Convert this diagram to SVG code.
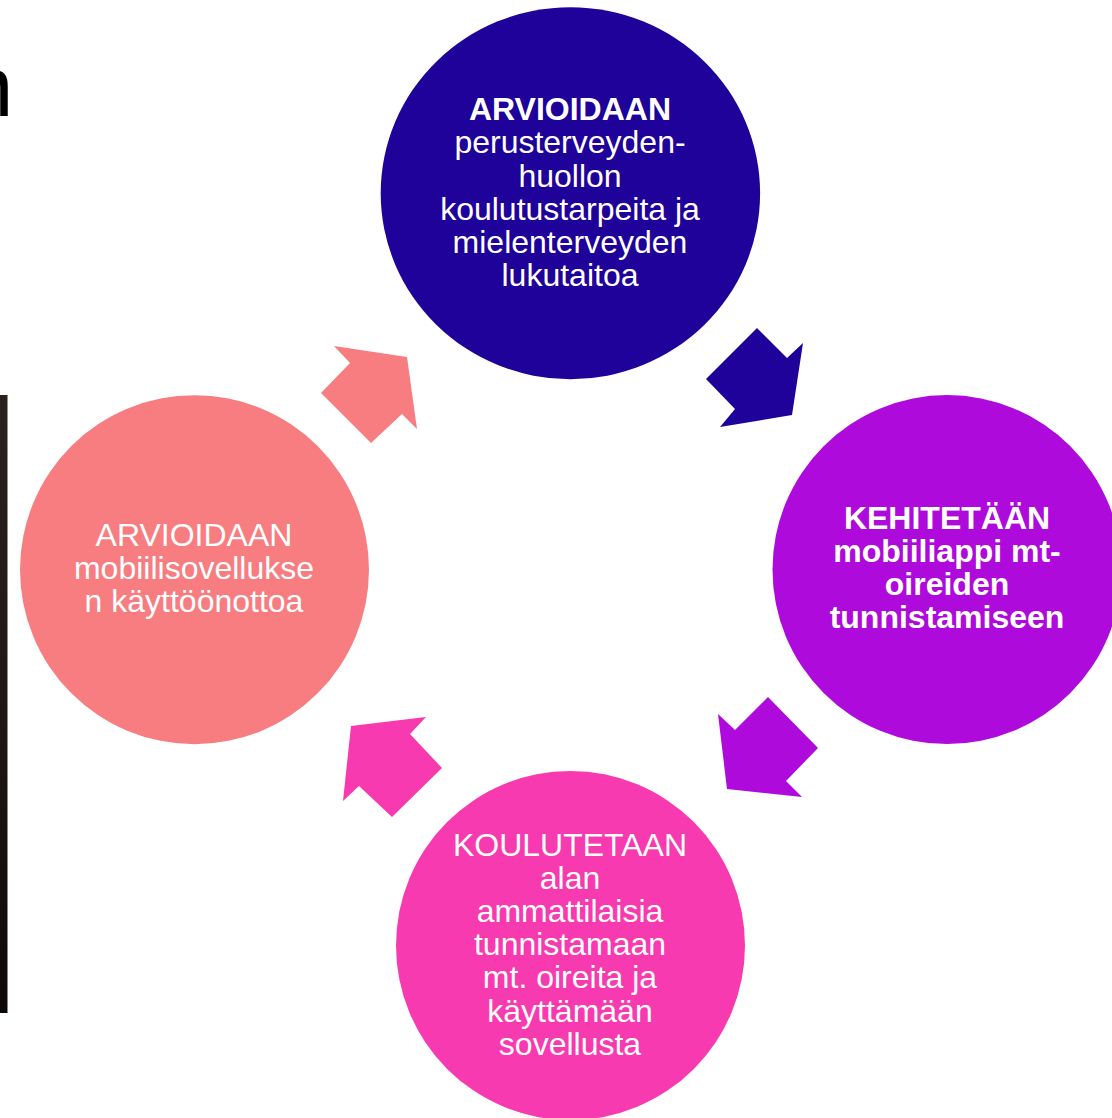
<svg xmlns="http://www.w3.org/2000/svg" width="1112" height="1118" viewBox="0 0 1112 1118">
<style>
text{font-family:"Liberation Sans",Arial,sans-serif;font-size:32px;fill:#ffffff;text-anchor:middle}
.b{font-weight:bold}
</style>
<defs>
<linearGradient id="bar" x1="0" y1="0" x2="0" y2="1">
<stop offset="0" stop-color="#2a221e"/>
<stop offset="0.5" stop-color="#1f1814"/>
<stop offset="1" stop-color="#0e0907"/>
</linearGradient>
</defs>
<rect width="1112" height="1118" fill="#ffffff"/>
<text x="-34" y="115.5" style="fill:#000;font-size:85px;text-anchor:start">n</text>
<rect x="0" y="395" width="7.5" height="618" fill="url(#bar)"/>
<g id="connectors">
<polygon fill="#1e0299" points="706,379 757,328 787,358 803,343 792,415 720,427 735,409"/>
<polygon fill="#ad0adb" points="768,697 818,748 786,781 802,797 727,789 718,714 735,730"/>
<polygon fill="#f73ab0" points="351,726 426,717 410,734 442,768 392,817 359,786 343,801"/>
<polygon fill="#f77d80" points="334,346 407,357 417,429 402,414 371,443 321,393 350,363"/>
</g>
<g id="node-top">
<ellipse cx="570.4" cy="193.2" rx="189.7" ry="186" fill="#1e0299"/>
<text x="570" y="120" class="b">ARVIOIDAAN</text>
<text x="570" y="153">perusterveyden-</text>
<text x="570" y="186.5">huollon</text>
<text x="570" y="219.5">koulutustarpeita ja</text>
<text x="570" y="252.5">mielenterveyden</text>
<text x="570" y="285.5">lukutaitoa</text>
</g>
<g id="node-right">
<ellipse cx="947" cy="569.6" rx="174.5" ry="174.5" fill="#ad0adb"/>
<text x="947" y="529" class="b">KEHITETÄÄN</text>
<text x="947" y="562" class="b">mobiiliappi mt-</text>
<text x="947" y="595" class="b">oireiden</text>
<text x="947" y="628" class="b">tunnistamiseen</text>
</g>
<g id="node-bottom">
<ellipse cx="570.5" cy="945.5" rx="174.5" ry="174.5" fill="#f73ab0"/>
<text x="570" y="855.5">KOULUTETAAN</text>
<text x="570" y="888.5">alan</text>
<text x="570" y="921.5">ammattilaisia</text>
<text x="570" y="955">tunnistamaan</text>
<text x="570" y="988">mt. oireita ja</text>
<text x="570" y="1021.5">käyttämään</text>
<text x="570" y="1054.5">sovellusta</text>
</g>
<g id="node-left">
<ellipse cx="194.5" cy="569.7" rx="174.5" ry="174.5" fill="#f77d80"/>
<text x="194" y="546">ARVIOIDAAN</text>
<text x="194" y="579">mobiilisovellukse</text>
<text x="194" y="612">n käyttöönottoa</text>
</g>
</svg>
